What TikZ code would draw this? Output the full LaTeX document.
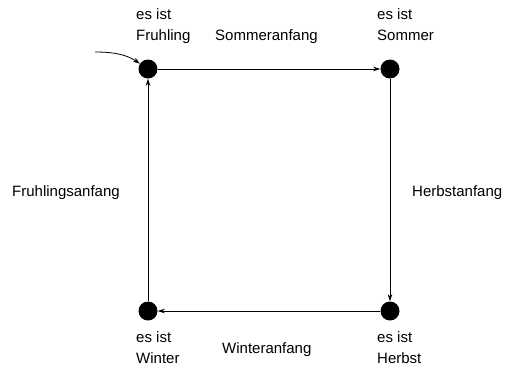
\documentclass[tikz,border=0pt]{standalone}
\usepackage{fontspec}
\setmainfont{Liberation Sans}
\usetikzlibrary{arrows.meta}
\begin{document}
\begin{tikzpicture}[x=1pt,y=-1pt,
  state/.style={circle,fill=black,minimum size=19pt,inner sep=0pt},
  lbl/.style={inner sep=0pt,anchor=base west,align=left,font=\fontsize{15}{20.5}\selectfont},
  edge/.style={line width=0.8pt,-{Stealth[length=7pt,width=4.5pt,inset=2pt]}}]
\useasboundingbox (0,0) rectangle (507,368);
\node[state] (fr) at (148,69) {};
\node[state] (so) at (390,69) {};
\node[state] (he) at (390,311) {};
\node[state] (wi) at (148,311) {};
\coordinate (start) at (95,52);
\draw[edge] (start) .. controls (115,52) and (127,55) .. (fr);
\draw[edge] (fr) -- (so);
\draw[edge] (so) -- (he);
\draw[edge] (he) -- (wi);
\draw[edge] (wi) -- (fr);
\node[lbl] (tfr) at (136,40) {es ist\\Fruhling};
\node[lbl] (tso) at (377,40) {es ist\\Sommer};
\node[lbl] (twi) at (136,363) {es ist\\Winter};
\node[lbl] (the) at (377,363) {es ist\\Herbst};
\node[lbl] (lso) at (215,40) {Sommeranfang};
\node[lbl] (lfr) at (12,196) {Fruhlingsanfang};
\node[lbl] (lhe) at (412,196) {Herbstanfang};
\node[lbl] (lwi) at (222,353) {Winteranfang};
\end{tikzpicture}
\end{document}
